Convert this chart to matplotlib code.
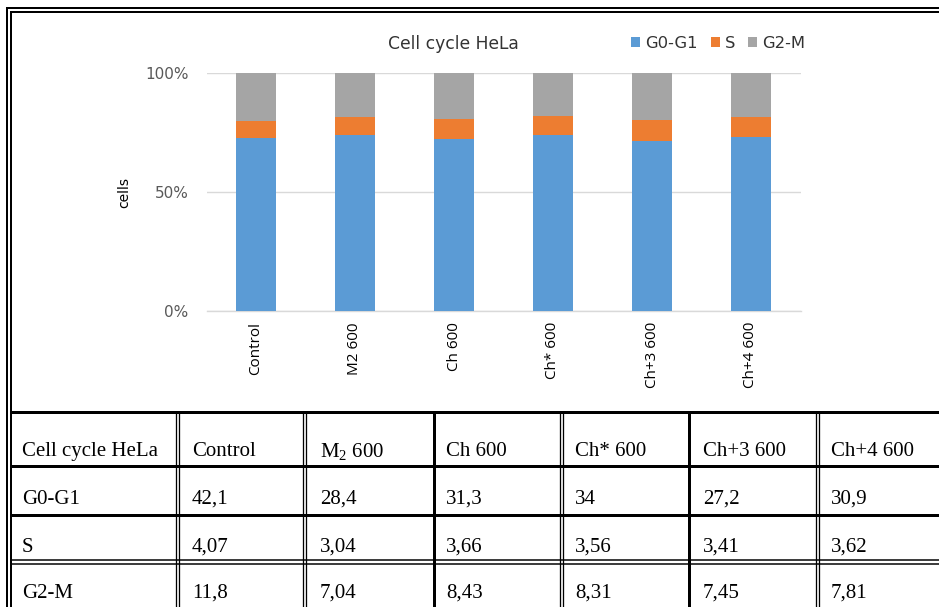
import matplotlib
matplotlib.use("Agg")
import matplotlib.pyplot as plt
from matplotlib.patches import Patch
from matplotlib.ticker import FixedLocator, FuncFormatter

# Flow-cytometry cell-cycle distribution of HeLa cells (% of cells per phase)
categories = ["Control", "M2 600", "Ch 600", "Ch* 600", "Ch+3 600", "Ch+4 600"]
table_headers = ["Control", r"$\mathregular{M_2}$ 600", "Ch 600", "Ch* 600", "Ch+3 600", "Ch+4 600"]
phases = ["G0-G1", "S", "G2-M"]
g0_g1 = [42.1, 28.4, 31.3, 34, 27.2, 30.9]
s_phase = [4.07, 3.04, 3.66, 3.56, 3.41, 3.62]
g2_m = [11.8, 7.04, 8.43, 8.31, 7.45, 7.81]
y_ticks = [0, 50, 100]
chart_title = "Cell cycle HeLa"
y_label = "cells"
table_corner = "Cell cycle HeLa"

colors = ["#5B9BD5", "#ED7D31", "#A5A5A5"]
text_grey = "#595959"
wide_font = "DejaVu Sans"
cat_font = "Open Sans"
table_font = "Liberation Serif"

W, H = 939, 607
fig = plt.figure(figsize=(W / 100, H / 100), dpi=100)
fig.patch.set_facecolor("white")


def fx(px):
    return px / W


def fy(py):
    return 1 - py / H


# ---- 100 % stacked bar chart ----
ax = fig.add_axes([fx(206.5), fy(311), fx(800.5) - fx(206.5), (311 - 73) / H])
series = [g0_g1, s_phase, g2_m]
totals = [sum(v) for v in zip(*series)]
x = list(range(len(categories)))
bottom = [0.0] * len(categories)
for vals, col, name in zip(series, colors, phases):
    pct = [v / t * 100 for v, t in zip(vals, totals)]
    ax.bar(x, pct, width=0.4, bottom=bottom, color=col, label=name, zorder=3)
    bottom = [b + p for b, p in zip(bottom, pct)]

ax.set_xlim(-0.5, len(categories) - 0.5)
ax.set_ylim(0, 100)
ax.yaxis.set_major_locator(FixedLocator(y_ticks))
ax.yaxis.set_major_formatter(FuncFormatter(lambda v, p: f"{v:.0f}%"))
ax.grid(axis="y", color="#D9D9D9", linewidth=1.0, zorder=0)
ax.set_axisbelow(True)
for side in ["top", "right", "left"]:
    ax.spines[side].set_visible(False)
ax.spines["bottom"].set_color("#D9D9D9")
ax.spines["bottom"].set_linewidth(1.0)
ax.tick_params(axis="both", length=0, colors=text_grey)
ax.tick_params(axis="y", pad=13)
ax.tick_params(axis="x", pad=8)
ax.set_xticks(x)
ax.set_xticklabels(categories, rotation=90, fontsize=11, family=cat_font,
                   color="black", va="top")
for lbl in ax.get_yticklabels():
    lbl.set_fontsize(11)
    lbl.set_family(wide_font)
    lbl.set_color(text_grey)

fig.text(fx(124), fy(193), y_label, rotation=90, ha="center", va="center",
         fontsize=10, family=wide_font, color="black")
fig.text(fx(453), fy(44), chart_title, ha="center", va="center",
         fontsize=12.3, family=wide_font, color="#333333")

handles = [Patch(facecolor=c, edgecolor="none") for c in colors]
leg = fig.legend(handles, phases, loc="center left",
                 bbox_to_anchor=(fx(631), fy(43)), ncol=3, frameon=False,
                 handlelength=0.55, handleheight=0.55,
                 handletextpad=0.3, columnspacing=0.8, borderpad=0,
                 borderaxespad=0, prop={"family": wide_font, "size": 11.8})
for t in leg.get_texts():
    t.set_color("#333333")

# ---- frame and data table, drawn on a pixel-space overlay ----
ov = fig.add_axes([0, 0, 1, 1], zorder=5)
ov.set_xlim(0, W)
ov.set_ylim(H, 0)
ov.axis("off")
ov.patch.set_alpha(0)

PX = 0.72  # one pixel in points at 100 dpi


def hline(y, x0, x1, px):
    ov.plot([x0, x1], [y, y], color="black", linewidth=px * PX,
            solid_capstyle="butt")


def vline(xp, y0, y1, px):
    ov.plot([xp, xp], [y0, y1], color="black", linewidth=px * PX,
            solid_capstyle="butt")


# outer double frame
hline(8, 6, W, 2)
hline(12, 9.5, W, 2)
vline(7, 7, H, 2)
vline(10.5, 11, H, 2)

# table rows
row_top, row_lines, bottom_edge = 411.5, [465.5, 514.5], H
hline(row_top, 10, W, 3)
for y in row_lines:
    hline(y, 10, W, 3)
hline(560, 10, W, 1.5)
hline(563.5, 10, W, 1.5)

# table columns: double or single rules
col_rules = [(175.5, 178.5), (303, 306), (433.5,), (559.5, 562.5), (688.5,), (815.5, 818.5)]
for rule in col_rules:
    if len(rule) == 2:
        for xr in rule:
            vline(xr, row_top, bottom_edge, 1.3)
    else:
        vline(rule[0], row_top, bottom_edge, 3)

text_x = [22, 192, 320, 446, 575, 703, 831]
row_y = [449, 497, 545, 591]


def fmt(v):
    return f"{v:g}".replace(".", ",")


cells = [[table_corner] + table_headers]
for name, vals in zip(phases, series):
    cells.append([name] + [fmt(v) for v in vals])

for r, row in enumerate(cells):
    for c, txt in enumerate(row):
        ov.text(text_x[c], row_y[r], txt, ha="left", va="center_baseline",
                fontsize=15, family=table_font, color="black")

fig.savefig("out.png", dpi=100, facecolor="white")
